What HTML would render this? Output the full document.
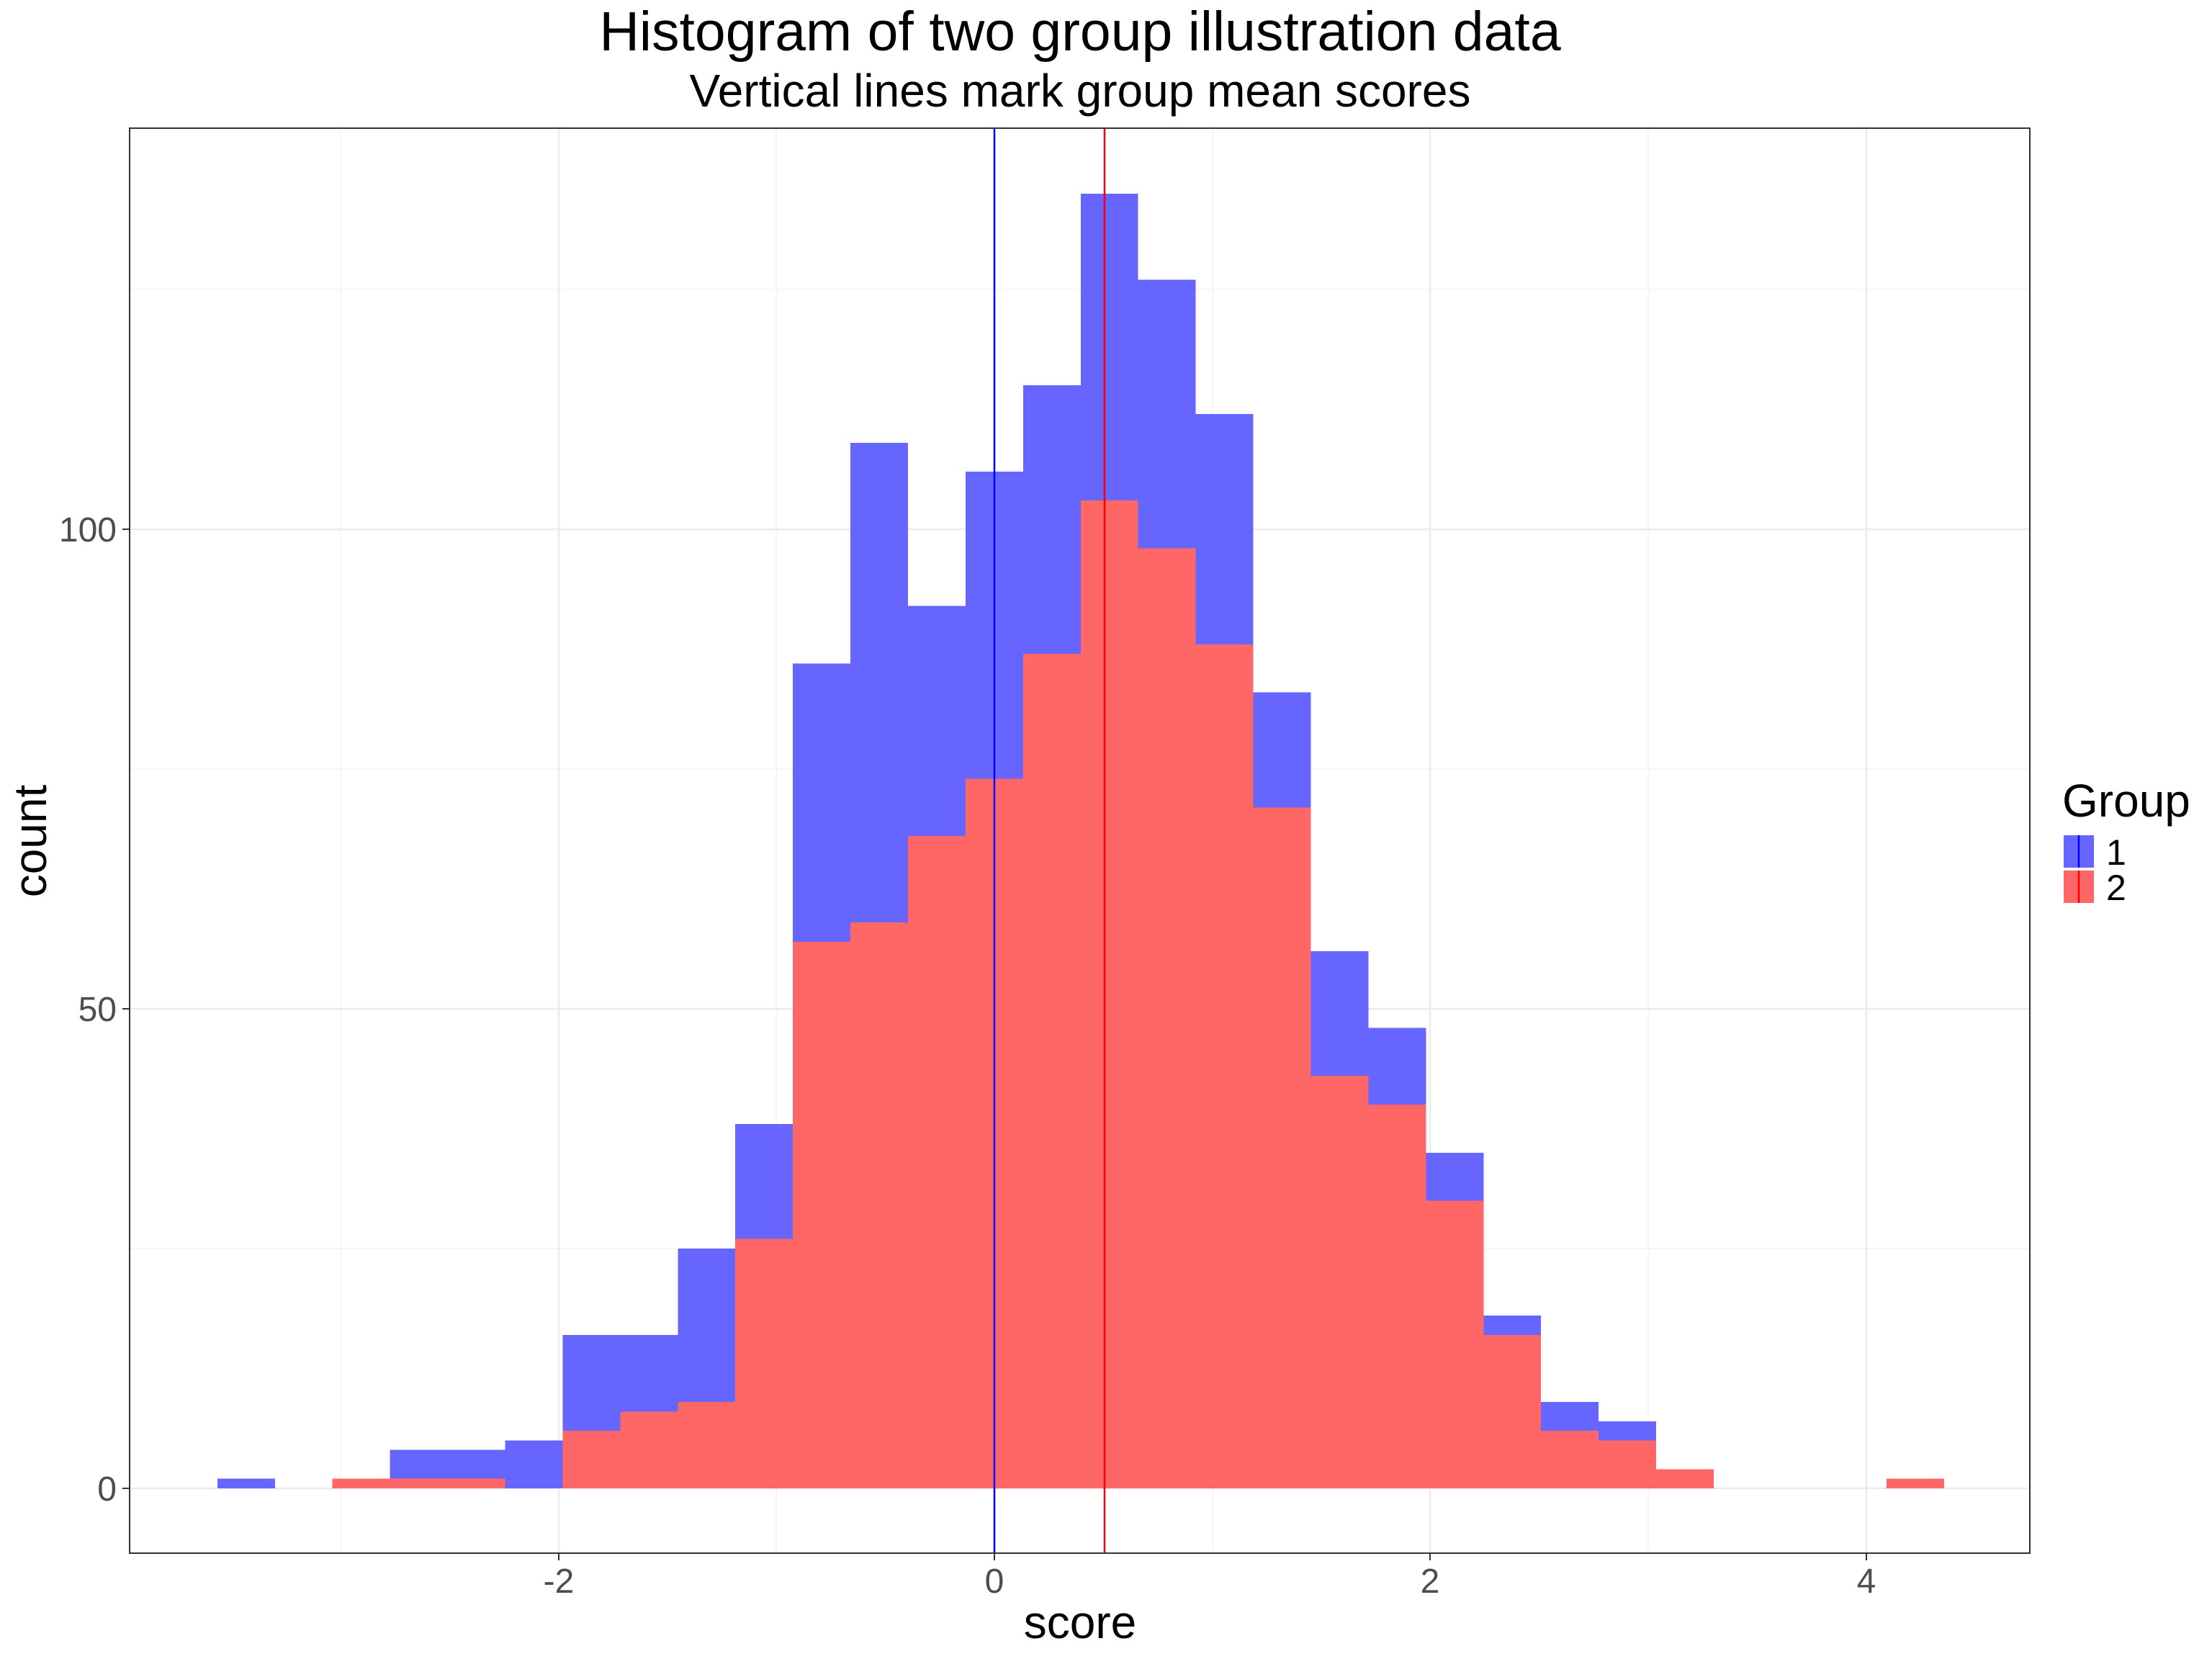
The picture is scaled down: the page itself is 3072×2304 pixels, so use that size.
<!DOCTYPE html>
<html><head><meta charset="utf-8"><style>html,body{margin:0;padding:0;background:#fff}svg{display:block}</style></head>
<body>
<svg width="3072" height="2304" viewBox="0 0 3072 2304" xmlns="http://www.w3.org/2000/svg" font-family="Liberation Sans, Arial, sans-serif">
<rect width="3072" height="2304" fill="#fff"/>
<g stroke="#f2f2f2" stroke-width="1.5">
<line x1="180" x2="2819" y1="1734" y2="1734"/><line x1="180" x2="2819" y1="1068" y2="1068"/><line x1="180" x2="2819" y1="402" y2="402"/>
<line y1="178" y2="2157" x1="473" x2="473"/><line y1="178" y2="2157" x1="1078" x2="1078"/><line y1="178" y2="2157" x1="1684" x2="1684"/><line y1="178" y2="2157" x1="2289" x2="2289"/>
</g>
<g stroke="#ebebeb" stroke-width="2.5">
<line x1="180" x2="2819" y1="2067" y2="2067"/><line x1="180" x2="2819" y1="1401" y2="1401"/><line x1="180" x2="2819" y1="735" y2="735"/>
<line y1="178" y2="2157" x1="776" x2="776"/><line y1="178" y2="2157" x1="1381" x2="1381"/><line y1="178" y2="2157" x1="1986" x2="1986"/><line y1="178" y2="2157" x1="2592" x2="2592"/>
</g>
<g transform="translate(1500.8,2067) scale(79.93,-13.32)" stroke="none" shape-rendering="crispEdges">
<g fill="#ff6666">
<rect x="-13" y="0" width="1" height="1"/><rect x="-12" y="0" width="1" height="1"/><rect x="-11" y="0" width="1" height="1"/>
<rect x="-9" y="0" width="1" height="6"/><rect x="-8" y="0" width="1" height="8"/><rect x="-7" y="0" width="1" height="9"/>
<rect x="-6" y="0" width="1" height="26"/><rect x="-5" y="0" width="1" height="57"/><rect x="-4" y="0" width="1" height="59"/>
<rect x="-3" y="0" width="1" height="68"/><rect x="-2" y="0" width="1" height="74"/><rect x="-1" y="0" width="1" height="87"/>
<rect x="0" y="0" width="1" height="103"/><rect x="1" y="0" width="1" height="98"/><rect x="2" y="0" width="1" height="88"/>
<rect x="3" y="0" width="1" height="71"/><rect x="4" y="0" width="1" height="43"/><rect x="5" y="0" width="1" height="40"/>
<rect x="6" y="0" width="1" height="30"/><rect x="7" y="0" width="1" height="16"/><rect x="8" y="0" width="1" height="6"/>
<rect x="9" y="0" width="1" height="5"/><rect x="10" y="0" width="1" height="2"/><rect x="14" y="0" width="1" height="1"/>
</g>
<g fill="#6666ff">
<rect x="-15" y="0" width="1" height="1"/>
<rect x="-12" y="1" width="1" height="3"/><rect x="-11" y="1" width="1" height="3"/><rect x="-10" y="0" width="1" height="5"/>
<rect x="-9" y="6" width="1" height="10"/><rect x="-8" y="8" width="1" height="8"/><rect x="-7" y="9" width="1" height="16"/>
<rect x="-6" y="26" width="1" height="12"/><rect x="-5" y="57" width="1" height="29"/><rect x="-4" y="59" width="1" height="50"/>
<rect x="-3" y="68" width="1" height="24"/><rect x="-2" y="74" width="1" height="32"/><rect x="-1" y="87" width="1" height="28"/>
<rect x="0" y="103" width="1" height="32"/><rect x="1" y="98" width="1" height="28"/><rect x="2" y="88" width="1" height="24"/>
<rect x="3" y="71" width="1" height="12"/><rect x="4" y="43" width="1" height="13"/><rect x="5" y="40" width="1" height="8"/>
<rect x="6" y="30" width="1" height="5"/><rect x="7" y="16" width="1" height="2"/><rect x="8" y="6" width="1" height="3"/>
<rect x="9" y="5" width="1" height="2"/>
</g>
</g>
<line x1="1381" x2="1381" y1="178" y2="2157" stroke="#0000ff" stroke-width="2.5"/>
<line x1="1534" x2="1534" y1="178" y2="2157" stroke="#ff0000" stroke-width="2.5"/>
<rect x="180" y="178" width="2639" height="1979" fill="none" stroke="#333" stroke-width="2"/>
<g stroke="#333" stroke-width="2">
<line x1="170" x2="180" y1="2067" y2="2067"/><line x1="170" x2="180" y1="1401" y2="1401"/><line x1="170" x2="180" y1="735" y2="735"/>
<line y1="2157" y2="2167" x1="776" x2="776"/><line y1="2157" y2="2167" x1="1381" x2="1381"/><line y1="2157" y2="2167" x1="1986" x2="1986"/><line y1="2157" y2="2167" x1="2592" x2="2592"/>
</g>
<g fill="#4d4d4d" font-size="48">
<text x="162" y="2084" text-anchor="end">0</text><text x="162" y="1418" text-anchor="end">50</text><text x="162" y="752" text-anchor="end">100</text>
<text x="776" y="2212" text-anchor="middle">-2</text><text x="1381" y="2212" text-anchor="middle">0</text><text x="1986" y="2212" text-anchor="middle">2</text><text x="2592" y="2212" text-anchor="middle">4</text>
</g>
<text x="1500" y="2275" font-size="64" text-anchor="middle">score</text>
<text transform="translate(64,1168) rotate(-90)" font-size="64" text-anchor="middle">count</text>
<text x="1500" y="70" font-size="77" text-anchor="middle">Histogram of two group illustration data</text>
<text x="1500" y="148" font-size="64" text-anchor="middle">Vertical lines mark group mean scores</text>
<text x="2864" y="1134" font-size="64">Group</text>
<rect x="2866" y="1160" width="42" height="45" fill="#6666ff"/>
<rect x="2866" y="1209" width="42" height="45" fill="#ff6666"/>
<line x1="2887" x2="2887" y1="1160" y2="1205" stroke="#0000ff" stroke-width="2.5"/>
<line x1="2887" x2="2887" y1="1209" y2="1254" stroke="#ff0000" stroke-width="2.5"/>
<text x="2925" y="1201" font-size="50">1</text>
<text x="2925" y="1250" font-size="50">2</text>
</svg>
</body></html>
